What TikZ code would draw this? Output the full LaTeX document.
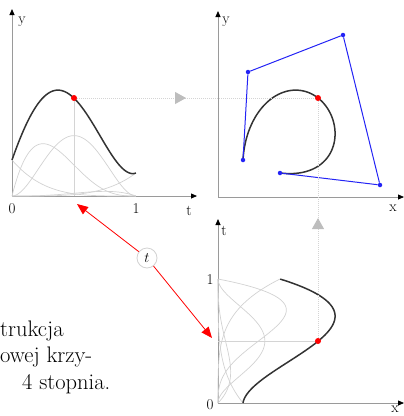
\documentclass[tikz,border=0pt]{standalone}
\usetikzlibrary{arrows.meta,decorations.markings}
\definecolor{axisgray}{HTML}{9A9A9A}
\definecolor{basisgray}{HTML}{D2D2D2}
\definecolor{guidegray}{HTML}{D4D4D4}
\definecolor{flowgray}{HTML}{BDBDBD}
\definecolor{curveblack}{HTML}{333333}
\definecolor{ctrlblue}{HTML}{2323F5}

\begin{document}
\begin{tikzpicture}[
  x=1pt,y=-1pt,
  declare function={
    b0(\s)=(1-\s)*(1-\s)*(1-\s)*(1-\s);
    b1(\s)=4*\s*(1-\s)*(1-\s)*(1-\s);
    b2(\s)=6*\s*\s*(1-\s)*(1-\s);
    b3(\s)=4*\s*\s*\s*(1-\s);
    b4(\s)=\s*\s*\s*\s;},
  axis/.style={draw=axisgray,line width=0.8pt,-{Triangle[length=6pt,width=5pt,color=black]}},
  lbl/.style={inner sep=0pt,font=\fontsize{15}{17}\selectfont},
  capt/.style={anchor=base west,inner sep=0pt,font=\fontsize{22.5}{27}\selectfont},
  basis/.style={draw=basisgray,line width=0.7pt},
  curve/.style={draw=curveblack,line width=1.5pt},
  ctrl/.style={draw=ctrlblue,line width=1pt},
  cdot/.style={circle,fill=ctrlblue,inner sep=0pt,minimum size=4.5pt},
  rdot/.style={circle,fill=red,inner sep=0pt,minimum size=6pt},
  guide/.style={draw=guidegray,line width=1pt},
  flow/.style={guide,dash pattern=on 1pt off 1pt,postaction={decorate},
    decoration={markings,mark=at position #1 with
      {\arrow[solid]{Triangle[length=11pt,width=12pt,color=flowgray]}}}},
  rarr/.style={draw=red,line width=0.8pt,-{Triangle[length=11pt,width=9pt]}},
  tmark/.style={circle,draw=basisgray,fill=white,line width=0.8pt,inner sep=0pt,
                minimum size=20pt,font=\fontsize{15}{17}\selectfont}
]
\useasboundingbox (0,0) rectangle (404,416);

\coordinate (o1) at (12,196);
\coordinate (o2) at (218,197);
\coordinate (o3) at (218,403);

\draw[axis] (o1) -- ++(0,-187);
\draw[axis] (o1) -- ++(185,0);
\draw[axis] (o2) -- ++(0,-186);
\draw[axis] (o2) -- ++(186,0);
\draw[axis] (o3) -- ++(0,-184);
\draw[axis] (o3) -- ++(186,0);

\node[lbl] (ly1) at (22,22) {y};
\node[lbl] (l01) at (12,209) {0};
\node[lbl] (l11) at (136,209) {1};
\node[lbl] (lt1) at (189,211) {t};
\node[lbl] (ly2) at (226,22) {y};
\node[lbl] (lx2) at (393,208) {x};
\node[lbl] (lt3) at (224,231) {t};
\node[lbl] (l13) at (210,280) {1};
\node[lbl] (l03) at (210,405) {0};
\node[lbl] (lx3) at (395,409) {x};

\draw[basis] plot[domain=0:1,samples=80,variable=\s] ({12+124*\s},{196-36*b0(\s)});
\draw[basis] plot[domain=0:1,samples=80,variable=\s] ({12+124*\s},{196-124*b1(\s)});
\draw[basis] plot[domain=0:1,samples=80,variable=\s] ({12+124*\s},{196-161*b2(\s)});
\draw[basis] plot[domain=0:1,samples=80,variable=\s] ({12+124*\s},{196-11*b3(\s)});
\draw[basis] plot[domain=0:1,samples=80,variable=\s] ({12+124*\s},{196-23*b4(\s)});
\draw[curve] plot[domain=0:1,samples=80,variable=\s]
  ({12+124*\s},{160*b0(\s)+72*b1(\s)+35*b2(\s)+185*b3(\s)+173*b4(\s)});

\draw[basis] plot[domain=0:1,samples=80,variable=\s] ({218+25*b0(\s)},{403-124*\s});
\draw[basis] plot[domain=0:1,samples=80,variable=\s] ({218+30*b1(\s)},{403-124*\s});
\draw[basis] plot[domain=0:1,samples=80,variable=\s] ({218+125*b2(\s)},{403-124*\s});
\draw[basis] plot[domain=0:1,samples=80,variable=\s] ({218+162*b3(\s)},{403-124*\s});
\draw[basis] plot[domain=0:1,samples=80,variable=\s] ({218+62*b4(\s)},{403-124*\s});
\draw[curve] plot[domain=0:1,samples=80,variable=\s]
  ({243*b0(\s)+248*b1(\s)+343*b2(\s)+380*b3(\s)+280*b4(\s)},{403-124*\s});

\draw[curve] plot[domain=0:1,samples=80,variable=\s]
  ({243*b0(\s)+248*b1(\s)+343*b2(\s)+380*b3(\s)+280*b4(\s)},
   {160*b0(\s)+72*b1(\s)+35*b2(\s)+185*b3(\s)+173*b4(\s)});

\node[cdot] (q0) at (243,160) {};
\node[cdot] (q1) at (248,72) {};
\node[cdot] (q2) at (343,35) {};
\node[cdot] (q3) at (380,185) {};
\node[cdot] (q4) at (280,173) {};
\draw[ctrl] (q0) -- (q1) -- (q2) -- (q3) -- (q4);

\node[rdot] (p1) at (74,98) {};
\node[rdot] (p2) at (318,98) {};
\node[rdot] (p3) at (318,341) {};
\draw[guide] (p1) -- (p1 |- o1);
\draw[guide] (p3) -- (p3 -| o3);
\draw[flow=0.458] (p1) -- (p2);
\draw[flow=0.506] (p3) -- (p2);

\coordinate (a1) at (77,204);
\coordinate (a2) at (212,338);
\node[tmark] (tc) at (147,258) {$t$};
\draw[rarr] (tc) -- (a1);
\draw[rarr] (tc) -- (a2);

\node[capt] (cap1) at (0,336) {trukcja};
\node[capt] (cap2) at (0,362) {owej krzy-};
\node[capt] (cap3) at (22,389) {4 stopnia.};
\end{tikzpicture}
\end{document}
